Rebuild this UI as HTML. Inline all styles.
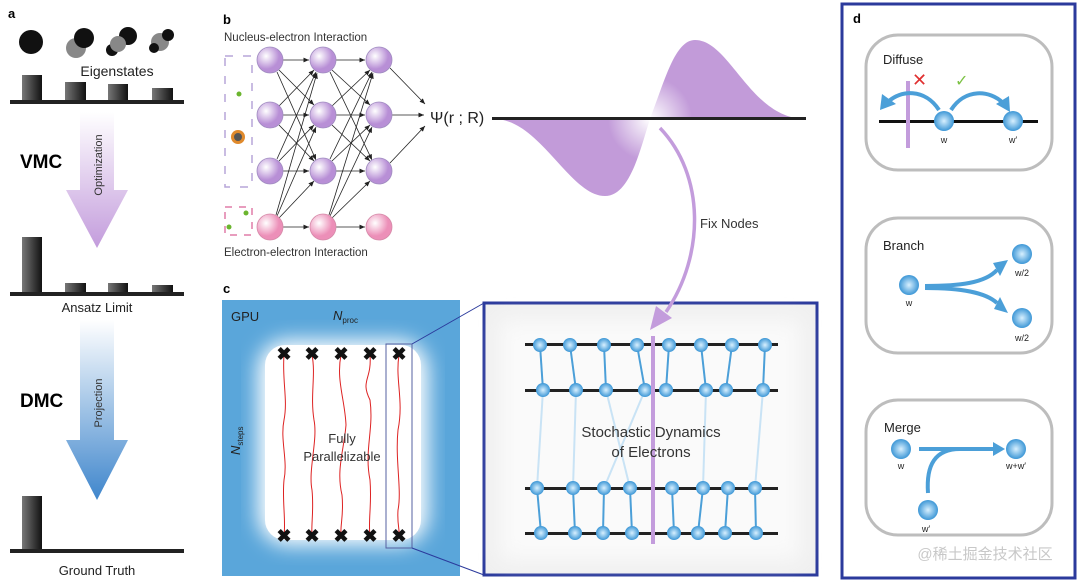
<!DOCTYPE html>
<html><head><meta charset="utf-8"><style>
html,body{margin:0;padding:0;background:#fff;}
svg{display:block;font-family:"Liberation Sans",Arial,sans-serif;}
</style></head><body>
<svg width="1080" height="582" viewBox="0 0 1080 582" xmlns="http://www.w3.org/2000/svg">
<defs>
 <linearGradient id="bar" x1="0" x2="1"><stop offset="0" stop-color="#777"/><stop offset="1" stop-color="#111"/></linearGradient>
 <linearGradient id="pur" x1="0" y1="0" x2="0" y2="1"><stop offset="0" stop-color="#fff"/><stop offset="1" stop-color="#c39cdc"/></linearGradient>
 <linearGradient id="blu" x1="0" y1="0" x2="0" y2="1"><stop offset="0" stop-color="#fff"/><stop offset="1" stop-color="#3f86cc"/></linearGradient>
 <radialGradient id="np" cx="0.35" cy="0.35"><stop offset="0" stop-color="#fff"/><stop offset="1" stop-color="#b88fd6"/></radialGradient>
 <radialGradient id="nk" cx="0.35" cy="0.35"><stop offset="0" stop-color="#fff"/><stop offset="1" stop-color="#ec8fb8"/></radialGradient>
 <radialGradient id="eb" cx="0.5" cy="0.5"><stop offset="0" stop-color="#d8f0ff"/><stop offset="1" stop-color="#3d97d6"/></radialGradient>
 <radialGradient id="wv" gradientUnits="userSpaceOnUse" cx="650" cy="119" r="70"><stop offset="0" stop-color="#fff"/><stop offset="0.6" stop-color="#c29bd9"/><stop offset="1" stop-color="#c29bd9"/></radialGradient>
 <filter id="blur"><feGaussianBlur stdDeviation="10"/></filter>
 <marker id="ah" markerWidth="8" markerHeight="8" refX="7" refY="4" orient="auto"><path d="M0,1 L7,4 L0,7 z" fill="#222"/></marker>
</defs>

<!-- Panel a -->
<text x="8" y="18" font-size="13" font-weight="bold">a</text>
<circle cx="31" cy="42" r="12" fill="#111"/>
<circle cx="76" cy="48" r="10" fill="#888"/><circle cx="84" cy="38" r="10" fill="#111"/>
<circle cx="112" cy="50" r="6" fill="#111"/><circle cx="128" cy="36" r="9" fill="#111"/><circle cx="118" cy="44" r="8" fill="#888"/>
<circle cx="160" cy="42" r="9" fill="#888"/><circle cx="168" cy="35" r="6" fill="#111"/><circle cx="154" cy="48" r="5" fill="#111"/>
<text x="117" y="76" font-size="14" text-anchor="middle" fill="#222">Eigenstates</text>
<rect x="22" y="75" width="20" height="26" fill="url(#bar)"/>
<rect x="65" y="82" width="21" height="19" fill="url(#bar)"/>
<rect x="108" y="84" width="20" height="17" fill="url(#bar)"/>
<rect x="152" y="88" width="21" height="13" fill="url(#bar)"/>
<rect x="10" y="100" width="174" height="4" fill="#222"/>
<path d="M80,112 L114,112 L114,190 L128,190 L97,248 L66,190 L80,190 Z" fill="url(#pur)"/>
<text transform="translate(102,165) rotate(-90)" font-size="11" text-anchor="middle" fill="#333">Optimization</text>
<text x="20" y="168" font-size="19" font-weight="bold">VMC</text>
<rect x="22" y="237" width="20" height="56" fill="url(#bar)"/>
<rect x="65" y="283" width="21" height="10" fill="url(#bar)"/>
<rect x="108" y="283" width="20" height="10" fill="url(#bar)"/>
<rect x="152" y="285" width="21" height="8" fill="url(#bar)"/>
<rect x="10" y="292" width="174" height="4" fill="#222"/>
<text x="97" y="312" font-size="13" text-anchor="middle" fill="#222">Ansatz Limit</text>
<path d="M80,320 L114,320 L114,440 L128,440 L97,500 L66,440 L80,440 Z" fill="url(#blu)"/>
<text transform="translate(102,403) rotate(-90)" font-size="11" text-anchor="middle" fill="#333">Projection</text>
<text x="20" y="407" font-size="19" font-weight="bold">DMC</text>
<rect x="22" y="496" width="20" height="54" fill="url(#bar)"/>
<rect x="10" y="549" width="174" height="4" fill="#222"/>
<text x="97" y="575" font-size="13" text-anchor="middle" fill="#222">Ground Truth</text>

<!-- Panel b -->
<text x="223" y="24" font-size="13" font-weight="bold">b</text>
<text x="224" y="41" font-size="11.5" fill="#333">Nucleus-electron Interaction</text>
<text x="224" y="256" font-size="11.5" fill="#333">Electron-electron Interaction</text>
<rect x="225" y="56" width="27" height="131" fill="none" stroke="#b7a6d8" stroke-width="1.5" stroke-dasharray="8,10"/>
<rect x="225" y="207" width="27" height="28" fill="none" stroke="#e07da8" stroke-width="1.5" stroke-dasharray="7,7"/>
<circle cx="239" cy="94" r="2.5" fill="#6bb52e"/>
<circle cx="246" cy="213" r="2.5" fill="#6bb52e"/><circle cx="229" cy="227" r="2.5" fill="#6bb52e"/>
<circle cx="238" cy="137" r="7" fill="#e08a2c"/><circle cx="238" cy="137" r="4" fill="#555"/>
<g stroke="#222" stroke-width="0.8" marker-end="url(#ah)">
<line x1="283" y1="60" x2="309" y2="60"/><line x1="283" y1="115" x2="309" y2="115"/><line x1="283" y1="171" x2="309" y2="171"/><line x1="283" y1="227" x2="309" y2="227"/>
<line x1="279" y1="70" x2="314" y2="105"/><line x1="277" y1="72" x2="316" y2="160"/>
<line x1="279" y1="106" x2="314" y2="70"/><line x1="279" y1="125" x2="314" y2="161"/>
<line x1="279" y1="161" x2="314" y2="125"/><line x1="277" y1="159" x2="316" y2="72"/>
<line x1="276" y1="215" x2="317" y2="73"/><line x1="277" y1="216" x2="316" y2="127"/><line x1="279" y1="218" x2="314" y2="181"/>
<line x1="336" y1="60" x2="365" y2="60"/><line x1="336" y1="115" x2="365" y2="115"/><line x1="336" y1="171" x2="365" y2="171"/><line x1="336" y1="227" x2="365" y2="227"/>
<line x1="332" y1="70" x2="370" y2="105"/><line x1="330" y1="72" x2="372" y2="160"/>
<line x1="332" y1="106" x2="370" y2="70"/><line x1="332" y1="125" x2="370" y2="161"/>
<line x1="332" y1="161" x2="370" y2="125"/><line x1="330" y1="159" x2="372" y2="72"/>
<line x1="329" y1="215" x2="373" y2="73"/><line x1="330" y1="216" x2="372" y2="127"/><line x1="332" y1="218" x2="370" y2="181"/>
<line x1="390" y1="68" x2="425" y2="104"/><line x1="392" y1="115" x2="424" y2="115"/><line x1="390" y1="163" x2="425" y2="126"/>
</g>
<g stroke="#a08cc0" stroke-width="0.8">
<circle cx="270" cy="60" r="13" fill="url(#np)"/><circle cx="270" cy="115" r="13" fill="url(#np)"/><circle cx="270" cy="171" r="13" fill="url(#np)"/>
<circle cx="323" cy="60" r="13" fill="url(#np)"/><circle cx="323" cy="115" r="13" fill="url(#np)"/><circle cx="323" cy="171" r="13" fill="url(#np)"/>
<circle cx="379" cy="60" r="13" fill="url(#np)"/><circle cx="379" cy="115" r="13" fill="url(#np)"/><circle cx="379" cy="171" r="13" fill="url(#np)"/>
</g>
<g stroke="#d58aa8" stroke-width="0.8">
<circle cx="270" cy="227" r="13" fill="url(#nk)"/><circle cx="323" cy="227" r="13" fill="url(#nk)"/><circle cx="379" cy="227" r="13" fill="url(#nk)"/>
</g>
<text x="430" y="123" font-size="16" fill="#222">Ψ(r ; R)</text>

<!-- wave -->
<path d="M495,119 C540,120 570,196 605,196 C630,196 640,150 650,119 Z" fill="url(#wv)"/>
<path d="M650,119 C665,80 675,40 695,40 C730,40 750,118 805,119 Z" fill="url(#wv)"/>
<rect x="492" y="117" width="314" height="3" fill="#222"/>
<text x="700" y="228" font-size="13" fill="#333">Fix Nodes</text>

<!-- Panel c -->
<text x="223" y="293" font-size="13" font-weight="bold">c</text>
<rect x="222" y="300" width="238" height="276" fill="#5aa6da"/>
<rect x="258" y="340" width="170" height="205" rx="30" fill="#fff" filter="url(#blur)"/>
<rect x="265" y="345" width="156" height="195" rx="20" fill="#fff"/>
<text x="231" y="321" font-size="13" fill="#222">GPU</text>
<text x="333" y="320" font-size="13" font-style="italic" fill="#222">N<tspan font-size="8" font-style="normal" dy="3">proc</tspan></text>
<text transform="translate(240,455) rotate(-90)" font-size="13" font-style="italic" fill="#222">N<tspan font-size="8" font-style="normal" dy="3">steps</tspan></text>
<g stroke="#d22" stroke-width="1" fill="none">
<path d="M284,355 C282,380 288,400 284,420 C280,440 288,460 284,480 C282,500 286,520 284,536"/>
<path d="M312,355 C316,375 310,395 314,420 C318,440 308,470 312,490 C314,510 311,525 312,536"/>
<path d="M341,355 C336,380 345,400 346,425 C344,450 336,470 342,495 C344,515 340,525 341,536"/>
<path d="M370,355 C372,380 360,380 370,400 C374,430 364,450 370,480 C372,505 368,520 370,536"/>
<path d="M399,355 C395,380 404,400 398,430 C395,460 402,490 398,510 C397,525 400,530 399,536"/>
</g>
<g font-size="18" font-weight="bold" text-anchor="middle" fill="#111">
<text x="284" y="360">✖</text><text x="312" y="360">✖</text><text x="341" y="360">✖</text><text x="370" y="360">✖</text><text x="399" y="360">✖</text>
<text x="284" y="542">✖</text><text x="312" y="542">✖</text><text x="341" y="542">✖</text><text x="370" y="542">✖</text><text x="399" y="542">✖</text>
</g>
<text x="342" y="443" font-size="13" text-anchor="middle" fill="#333">Fully</text>
<text x="342" y="461" font-size="13" text-anchor="middle" fill="#333">Parallelizable</text>
<rect x="386" y="344" width="26" height="204" fill="none" stroke="#5560a0" stroke-width="1"/>
<line x1="412" y1="344" x2="484" y2="303" stroke="#2b3a9c" stroke-width="1"/>
<line x1="412" y1="548" x2="484" y2="575" stroke="#2b3a9c" stroke-width="1"/>
<rect x="484" y="303" width="333" height="272" fill="#f0f0f0" stroke="#2b3a9c" stroke-width="3"/>
<rect x="500" y="320" width="300" height="240" fill="#fafafa" filter="url(#blur)"/>
<g stroke="#4b9fd8" stroke-width="2">
<line x1="540" y1="345" x2="543" y2="390"/><line x1="570" y1="345" x2="576" y2="390"/><line x1="604" y1="345" x2="606" y2="390"/><line x1="637" y1="345" x2="645" y2="390"/><line x1="669" y1="345" x2="666" y2="390"/><line x1="701" y1="345" x2="706" y2="390"/><line x1="732" y1="345" x2="726" y2="390"/><line x1="765" y1="345" x2="763" y2="390"/>
<line x1="537" y1="488" x2="541" y2="533"/><line x1="573" y1="488" x2="575" y2="533"/><line x1="604" y1="488" x2="603" y2="533"/><line x1="630" y1="488" x2="632" y2="533"/><line x1="672" y1="488" x2="674" y2="533"/><line x1="703" y1="488" x2="698" y2="533"/><line x1="728" y1="488" x2="725" y2="533"/><line x1="755" y1="488" x2="756" y2="533"/>
</g>
<g stroke="#c9e3f5" stroke-width="2">
<line x1="543" y1="390" x2="537" y2="488"/><line x1="576" y1="390" x2="573" y2="488"/><line x1="606" y1="390" x2="630" y2="488"/><line x1="645" y1="390" x2="604" y2="488"/><line x1="706" y1="390" x2="703" y2="488"/><line x1="763" y1="390" x2="755" y2="488"/>
</g>
<g fill="#222">
<rect x="525" y="343" width="253" height="3"/><rect x="525" y="389" width="253" height="3"/><rect x="525" y="487" width="253" height="3"/><rect x="525" y="532" width="253" height="3"/>
</g>
<g fill="url(#eb)">
<circle cx="540" cy="345" r="7"/><circle cx="570" cy="345" r="7"/><circle cx="604" cy="345" r="7"/><circle cx="637" cy="345" r="7"/><circle cx="669" cy="345" r="7"/><circle cx="701" cy="345" r="7"/><circle cx="732" cy="345" r="7"/><circle cx="765" cy="345" r="7"/>
<circle cx="543" cy="390" r="7"/><circle cx="576" cy="390" r="7"/><circle cx="606" cy="390" r="7"/><circle cx="645" cy="390" r="7"/><circle cx="666" cy="390" r="7"/><circle cx="706" cy="390" r="7"/><circle cx="726" cy="390" r="7"/><circle cx="763" cy="390" r="7"/>
<circle cx="537" cy="488" r="7"/><circle cx="573" cy="488" r="7"/><circle cx="604" cy="488" r="7"/><circle cx="630" cy="488" r="7"/><circle cx="672" cy="488" r="7"/><circle cx="703" cy="488" r="7"/><circle cx="728" cy="488" r="7"/><circle cx="755" cy="488" r="7"/>
<circle cx="541" cy="533" r="7"/><circle cx="575" cy="533" r="7"/><circle cx="603" cy="533" r="7"/><circle cx="632" cy="533" r="7"/><circle cx="674" cy="533" r="7"/><circle cx="698" cy="533" r="7"/><circle cx="725" cy="533" r="7"/><circle cx="756" cy="533" r="7"/>
</g>
<rect x="651" y="336" width="4" height="208" fill="#c39cdc"/>
<text x="651" y="437" font-size="15" text-anchor="middle" fill="#333">Stochastic Dynamics</text>
<text x="651" y="457" font-size="15" text-anchor="middle" fill="#333">of Electrons</text>

<!-- Fix nodes arrow -->
<path d="M660,128 C705,175 705,255 666,312" stroke="#c39cdc" stroke-width="3.5" fill="none"/>
<path d="M650,330 L672,318 L656,306 Z" fill="#c39cdc"/>

<!-- Panel d -->
<rect x="842" y="4" width="233" height="574" fill="#fff" stroke="#2b3a9c" stroke-width="3"/>
<text x="853" y="23" font-size="13" font-weight="bold">d</text>
<g fill="none" stroke="#bdbdbd" stroke-width="3">
<rect x="866" y="35" width="186" height="135" rx="32"/>
<rect x="866" y="218" width="186" height="135" rx="32"/>
<rect x="866" y="400" width="186" height="135" rx="32"/>
</g>
<g font-size="13" fill="#222">
<text x="883" y="64">Diffuse</text><text x="883" y="250">Branch</text><text x="884" y="432">Merge</text>
</g>
<rect x="879" y="120" width="159" height="3" fill="#111"/>
<rect x="906" y="81" width="4" height="67" fill="#c39cdc"/>
<g stroke="#4b9fd8" stroke-width="4" fill="none">
<path d="M939,110 C925,88 900,90 888,102"/>
<path d="M951,110 C965,88 990,90 1003,103"/>
<path d="M925,286 C960,286 985,283 997,270"/>
<path d="M925,288 C960,288 985,292 997,303"/>
<path d="M919,449 L995,449"/>
<path d="M928,493 C926,465 935,449 960,449"/>
</g>
<g fill="#4b9fd8">
<path d="M880,110 L882,94 L896,104 Z"/>
<path d="M1010,112 L996,104 L1009,96 Z"/>
<path d="M1008,260 L993,263 L1000,276 Z"/>
<path d="M1008,313 L994,309 L1000,297 Z"/>
<path d="M1005,449 L993,442 L993,456 Z"/>
</g>
<text x="912" y="86" font-size="18" fill="#e03030">✕</text>
<text x="955" y="86" font-size="16" fill="#7cc244">✓</text>
<g fill="url(#eb)">
<circle cx="944" cy="121" r="10"/><circle cx="1013" cy="121" r="10"/>
<circle cx="909" cy="285" r="10"/><circle cx="1022" cy="254" r="10"/><circle cx="1022" cy="318" r="10"/>
<circle cx="901" cy="449" r="10"/><circle cx="1016" cy="449" r="10"/><circle cx="928" cy="510" r="10"/>
</g>
<g font-size="9" text-anchor="middle" fill="#222">
<text x="944" y="143">w</text><text x="1013" y="143">w′</text>
<text x="909" y="306">w</text><text x="1022" y="276">w/2</text><text x="1022" y="341">w/2</text>
<text x="901" y="469">w</text><text x="1016" y="469">w+w′</text><text x="926" y="532">w′</text>
</g>
<text x="985" y="559" font-size="15" text-anchor="middle" fill="#c8c8c8" font-family="'Liberation Sans','Noto Sans CJK SC',sans-serif">@稀土掘金技术社区</text>
</svg>
</body></html>
